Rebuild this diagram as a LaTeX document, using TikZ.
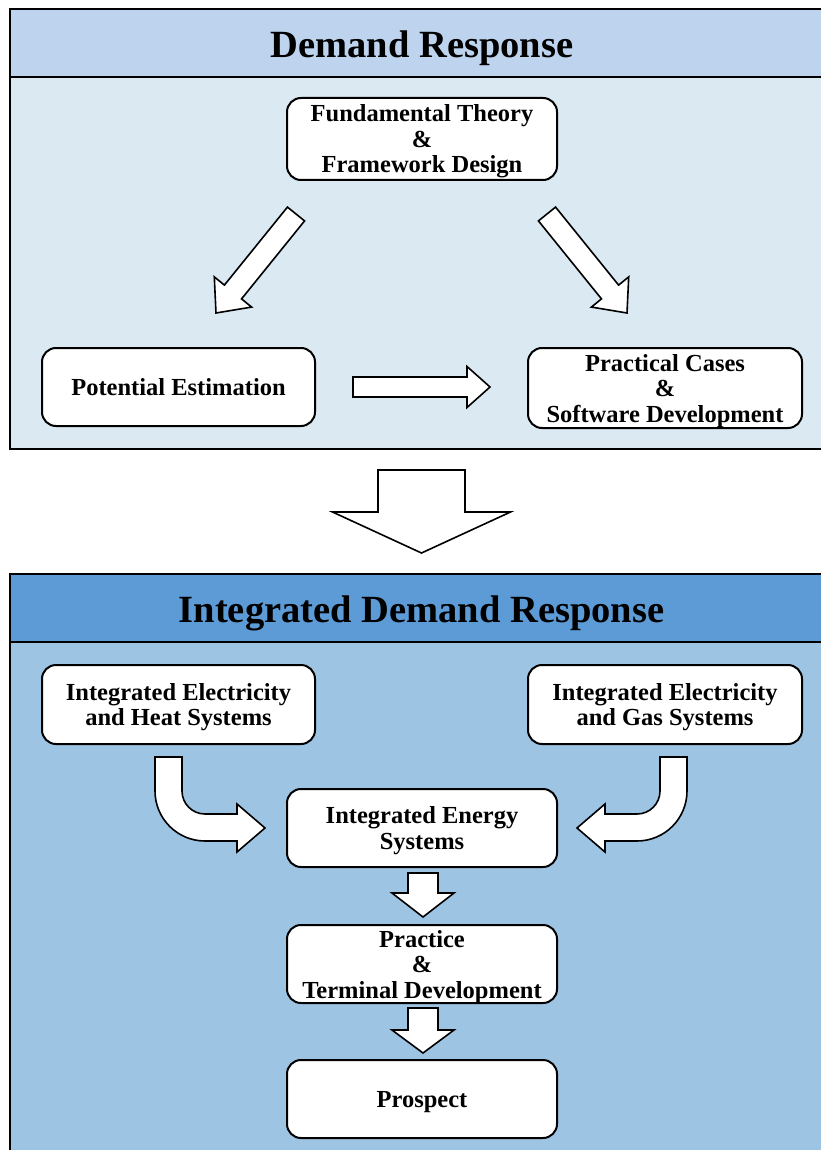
\documentclass[tikz,border=0pt]{standalone}
\usepackage{fontspec}
\setmainfont{Liberation Serif}
\usetikzlibrary{calc}

\definecolor{topHead}{RGB}{190,212,238}
\definecolor{topBody}{RGB}{219,233,243}
\definecolor{botHead}{RGB}{93,155,214}
\definecolor{botBody}{RGB}{158,196,228}

\tikzset{
  panel/.style={draw=black, line width=2pt},
  heading/.style={font=\fontsize{38.5}{41}\selectfont\bfseries, inner sep=0pt},
  stagebox/.style={draw=black, fill=white, line width=2pt, rounded corners=14pt,
    align=center, inner sep=2pt, text depth=0pt,
    font=\fontsize{24.5}{25.5}\selectfont\bfseries},
  flowarrow/.style={draw=black, fill=white, line width=1.6pt, line join=miter},
}

% straight block arrow: tail, tip, shaft half-width, head half-width, head length
\newcommand\blockarrow[5]{%
  \coordinate (babase) at ($(#2)!#5!(#1)$);
  \draw[flowarrow] ($(#1)!#3!90:(#2)$) -- ($(babase)!#3!90:(#2)$)
    -- ($(babase)!#4!90:(#2)$) -- (#2) -- ($(babase)!#4!-90:(#2)$)
    -- ($(babase)!#3!-90:(#2)$) -- ($(#1)!#3!-90:(#2)$) -- cycle;
}

\begin{document}
\begin{tikzpicture}[x=1pt, y=-1pt]
\useasboundingbox (0,0) rectangle (821,1150);
\clip (0,0) rectangle (821,1150);

% ---------- upper panel ----------
\fill[topHead] (10,9) rectangle (840,77);
\fill[topBody] (10,77) rectangle (840,449);
\draw[panel] (10,9) rectangle (840,449);
\draw[panel] (10,77) -- (840,77);
\node[heading] (drtitle) at (422,48) {Demand Response};

\node[stagebox, minimum width=270pt, minimum height=82pt] (fund) at (422,139)
  {Fundamental Theory\\ \&\\ Framework Design};
\node[stagebox, minimum width=273pt, minimum height=78pt] (pot) at (178.5,387)
  {Potential Estimation};
\node[stagebox, minimum width=274pt, minimum height=80pt] (prac) at (665,388)
  {Practical Cases\\ \&\\ Software Development};

\coordinate (lt) at (296,214);  \coordinate (lh) at (216,313);
\coordinate (rt) at (547,214);  \coordinate (rh) at (627,313);
\coordinate (ht) at (353,387);  \coordinate (hh) at (490,387);
\blockarrow{lt}{lh}{11pt}{24pt}{27pt}
\blockarrow{rt}{rh}{11pt}{24pt}{27pt}
\blockarrow{ht}{hh}{10pt}{20.5pt}{23pt}

% ---------- transition arrow ----------
\coordinate (bt) at (421.5,470); \coordinate (bh) at (421.5,553);
\blockarrow{bt}{bh}{43.5pt}{89pt}{41pt}

% ---------- lower panel ----------
\fill[botHead] (10,574) rectangle (840,642);
\fill[botBody] (10,642) rectangle (840,1170);
\draw[panel] (10,574) rectangle (840,1170);
\draw[panel] (10,642) -- (840,642);
\node[heading] (idrtitle) at (421.5,613) {Integrated Demand Response};

\node[stagebox, minimum width=273pt, minimum height=79pt] (ieh) at (178.5,704.5)
  {Integrated Electricity\\ and Heat Systems};
\node[stagebox, minimum width=274pt, minimum height=79pt] (ieg) at (665,704.5)
  {Integrated Electricity\\ and Gas Systems};
\node[stagebox, minimum width=270pt, minimum height=78pt] (ies) at (422,828)
  {Integrated Energy\\ Systems};
\node[stagebox, minimum width=270pt, minimum height=78pt] (ptd) at (422,964)
  {Practice\\ \&\\ Terminal Development};
\node[stagebox, minimum width=270pt, minimum height=78pt] (prosp) at (422,1099)
  {Prospect};

% bent arrows into the integrated energy systems box
\draw[flowarrow] (155,757) -- (155,791)
  .. controls (155,818.6) and (177.4,841) .. (205,841)
  -- (237,841) -- (237,852) -- (265,828) -- (237,804) -- (237,814) -- (205,814)
  .. controls (192.3,814) and (182,803.7) .. (182,791) -- (182,757) -- cycle;
\draw[flowarrow] (687,757) -- (687,791)
  .. controls (687,818.6) and (664.6,841) .. (637,841)
  -- (605,841) -- (605,852) -- (577,828) -- (605,804) -- (605,814) -- (637,814)
  .. controls (649.7,814) and (660,803.7) .. (660,791) -- (660,757) -- cycle;

% downward steps
\coordinate (s1t) at (423,873);  \coordinate (s1h) at (423,917);
\coordinate (s2t) at (423,1008); \coordinate (s2h) at (423,1053);
\blockarrow{s1t}{s1h}{15pt}{31pt}{24pt}
\blockarrow{s2t}{s2h}{15pt}{31pt}{23pt}
\end{tikzpicture}
\end{document}
